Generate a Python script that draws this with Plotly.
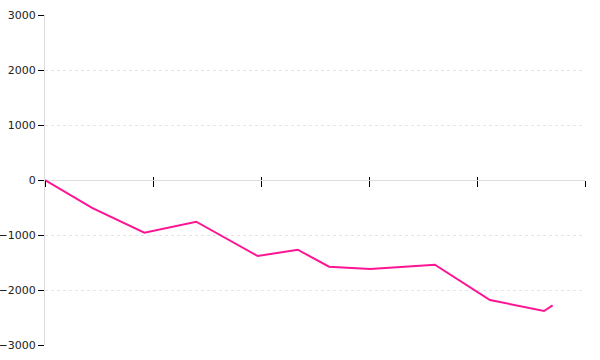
import plotly.graph_objects as go

# data (x in arbitrary units, 0..50; ticks every 10)
x_vals = [0, 4.4, 9.2, 14.0, 19.7, 23.4, 26.3, 30.1, 36.1, 41.2, 46.2, 47.0]
y_vals = [0, -510, -958, -758, -1382, -1267, -1576, -1618, -1539, -2182, -2382, -2279]
y_ticks = [-3000, -2000, -1000, 0, 1000, 2000, 3000]
x_ticks = [0, 10, 20, 30, 40, 50]

fig = go.Figure()
fig.add_trace(go.Scatter(x=x_vals, y=y_vals, mode="lines",
                         line=dict(color="#ff1493", width=2), showlegend=False))
# dummy trace on overlay axis so its ticks render
fig.add_trace(go.Scatter(x=[x_ticks[0]], y=[0], xaxis="x2", mode="markers",
                         marker=dict(opacity=0), showlegend=False, hoverinfo="skip"))

fig.update_layout(
    width=600, height=360,
    margin=dict(l=45, r=15, t=15, b=15),
    paper_bgcolor="white", plot_bgcolor="white",
    font=dict(family="DejaVu Sans", size=11, color="#222"),
    xaxis=dict(range=[0, 50], tickvals=x_ticks, showticklabels=False,
               ticks="outside", ticklen=6, tickcolor="black", tickwidth=1,
               showgrid=False, zeroline=False, showline=False,
               anchor="free", position=0.5, automargin=False),
    xaxis2=dict(range=[0, 50], tickvals=x_ticks, showticklabels=False,
                ticks="inside", ticklen=3, tickcolor="black", tickwidth=1,
                showgrid=False, zeroline=False, showline=False,
                overlaying="x", anchor="free", position=0.5, automargin=False),
    yaxis=dict(range=[-3000, 3000], tickvals=y_ticks, automargin=False,
               ticks="outside", ticklen=6, tickcolor="black", tickwidth=1,
               showline=True, linecolor="#dddddd", linewidth=1,
               showgrid=True, gridcolor="#e4e4e4", griddash="dot", gridwidth=1,
               zeroline=True, zerolinecolor="#dddddd", zerolinewidth=1,
               tickfont=dict(family="DejaVu Sans", size=11, color="#222")),
)

fig.write_html("out.html")
